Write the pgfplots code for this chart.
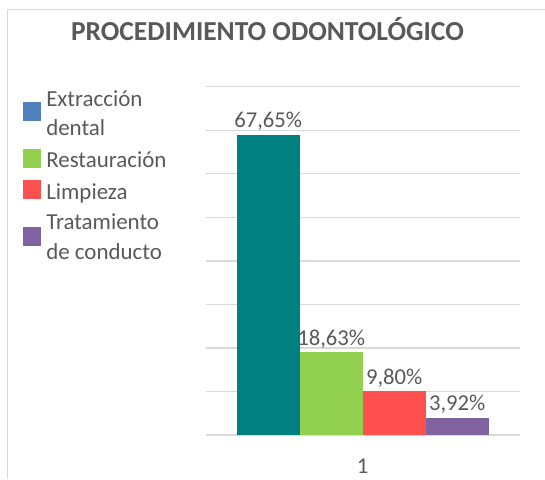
\documentclass[border=0pt]{standalone}
\usepackage{pgfplots}
\pgfplotsset{compat=1.18}
\usepackage{fontspec}
\setmainfont{Carlito}
\definecolor{txt}{HTML}{595959}
\definecolor{bordergray}{HTML}{D9D9D9}
\definecolor{gridgray}{HTML}{D9D9D9}
\definecolor{cteal}{HTML}{008080}
\definecolor{cgreen}{HTML}{92D050}
\definecolor{cred}{HTML}{FF5050}
\definecolor{cpurple}{HTML}{8064A2}
\definecolor{cblue}{HTML}{4F81BD}
\begin{document}
\begin{tikzpicture}
\path[use as bounding box] (0,0) rectangle (408.75pt,359.25pt);
\draw[color=bordergray, line width=0.75pt] (5.25pt,0pt) -- (5.25pt,351.75pt) -- (408.75pt,351.75pt);
\node[font=\bfseries\fontsize{20.6}{24}\selectfont, text=txt, inner sep=0pt] at (200.6pt,337.5pt) {PROCEDIMIENTO ODONTOLÓGICO};
% legend
\fill[cblue] (17pt,268.5pt) rectangle (30.5pt,282.5pt);
\fill[cgreen] (17pt,233.2pt) rectangle (30.5pt,247.2pt);
\fill[cred] (17pt,210.1pt) rectangle (30.5pt,224.1pt);
\fill[cpurple] (17pt,175.1pt) rectangle (30.5pt,189.1pt);
\begin{scope}[every node/.style={font=\fontsize{17.2}{20}\selectfont, text=txt, inner sep=0pt, anchor=base west}]
\node at (34.5pt,279.2pt) {Extracción};
\node at (34.5pt,257.25pt) {dental};
\node at (34.5pt,233.8pt) {Restauración};
\node at (34.5pt,210pt) {Limpieza};
\node at (34.5pt,187.5pt) {Tratamiento};
\node at (34.5pt,165pt) {de conducto};
\end{scope}
\begin{axis}[
  at={(154.3pt,33pt)}, anchor=south west, scale only axis,
  width=235.5pt, height=261.2pt,
  ybar=0pt, bar width=47.25pt,
  xmin=0.5, xmax=1.5, ymin=0, ymax=80,
  xtick={1}, xticklabels={1},
  ytick={0,10,...,80}, yticklabels={},
  major tick length=0pt,
  axis line style={draw=none},
  ymajorgrids, grid style={color=gridgray, line width=1pt},
  nodes near coords, point meta=explicit symbolic,
  nodes near coords style={font=\fontsize{17}{20}\selectfont, text=txt, anchor=base, inner sep=0pt, yshift=5pt},
  xticklabel style={font=\fontsize{17}{20}\selectfont, text=txt, anchor=base, inner sep=0pt, yshift=-28.7pt},
  clip=false,
]
\addplot[fill=cteal, draw=none] coordinates {(1,69) [67,65\%]};
\addplot[fill=cgreen, draw=none] coordinates {(1,19) [18,63\%]};
\addplot[fill=cred, draw=none] coordinates {(1,10) [9,80\%]};
\addplot[fill=cpurple, draw=none] coordinates {(1,4) [3,92\%]};
\end{axis}
\end{tikzpicture}
\end{document}
